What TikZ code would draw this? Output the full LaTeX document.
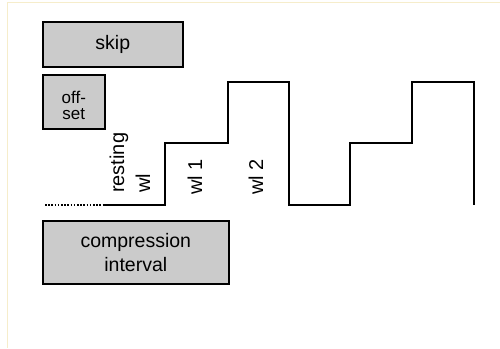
\documentclass[tikz,border=0pt]{standalone}
\usepackage{fontspec}
\setmainfont{Liberation Sans}
\definecolor{boxgray}{HTML}{CBCBCB}
\definecolor{edgeyellow}{HTML}{F6EDCB}
\begin{document}
\begin{tikzpicture}[x=1pt,y=1pt,
  box/.style={draw=black, line width=1.6pt, fill=boxgray, inner sep=0pt, align=center, anchor=north west},
  bigtext/.style={font=\fontsize{19.5}{24}\selectfont},
  smalltext/.style={font=\fontsize{17}{16}\selectfont, align=center, inner sep=0pt},
  vlabel/.style={rotate=90, anchor=base west, inner sep=0pt, font=\fontsize{20}{24}\selectfont},
  wave/.style={line width=1.5pt, line join=miter}]
\useasboundingbox (0,0) rectangle (500,348);
\draw[edgeyellow, line width=1pt] (7,0) -- (7,345) -- (500,345);
% boxes
\node[box, bigtext, minimum width=140, minimum height=45] (skip) at (42,327) {skip};
\node[box, minimum width=62, minimum height=54] (offset) at (42,274) {};
\node[smalltext] (offtext) at ([yshift=-4pt]offset.center) {off-\\set};
\node[box, bigtext, minimum width=186, minimum height=63] (comp) at (42,128) {compression\\interval};
% waveform
\coordinate (d0) at (45,143);
\coordinate (p0) at (103,143);
\coordinate (p1) at (165,143);
\coordinate (p2) at (165,205);
\coordinate (p3) at (228,205);
\coordinate (p4) at (228,266);
\coordinate (p5) at (289,266);
\coordinate (p6) at (289,143);
\coordinate (p7) at (350,143);
\coordinate (p8) at (350,205);
\coordinate (p9) at (412,205);
\coordinate (p10) at (412,266);
\coordinate (p11) at (474,266);
\coordinate (p12) at (474,143);
\draw[line width=1.6pt, dash pattern=on 1.6pt off 1.6pt] (d0) -- (p0);
\draw[wave] (p0) -- (p1) -- (p2) -- (p3) -- (p4) -- (p5) -- (p6) -- (p7) -- (p8) -- (p9) -- (p10) -- (p11) -- (p12);
% labels
\node[vlabel] (rest) at (124,155) {resting};
\node[vlabel] (rwl) at (150,155) {wl};
\node[vlabel] (wl1) at (202,153) {wl 1};
\node[vlabel] (wl2) at (263,153) {wl 2};
\end{tikzpicture}
\end{document}
